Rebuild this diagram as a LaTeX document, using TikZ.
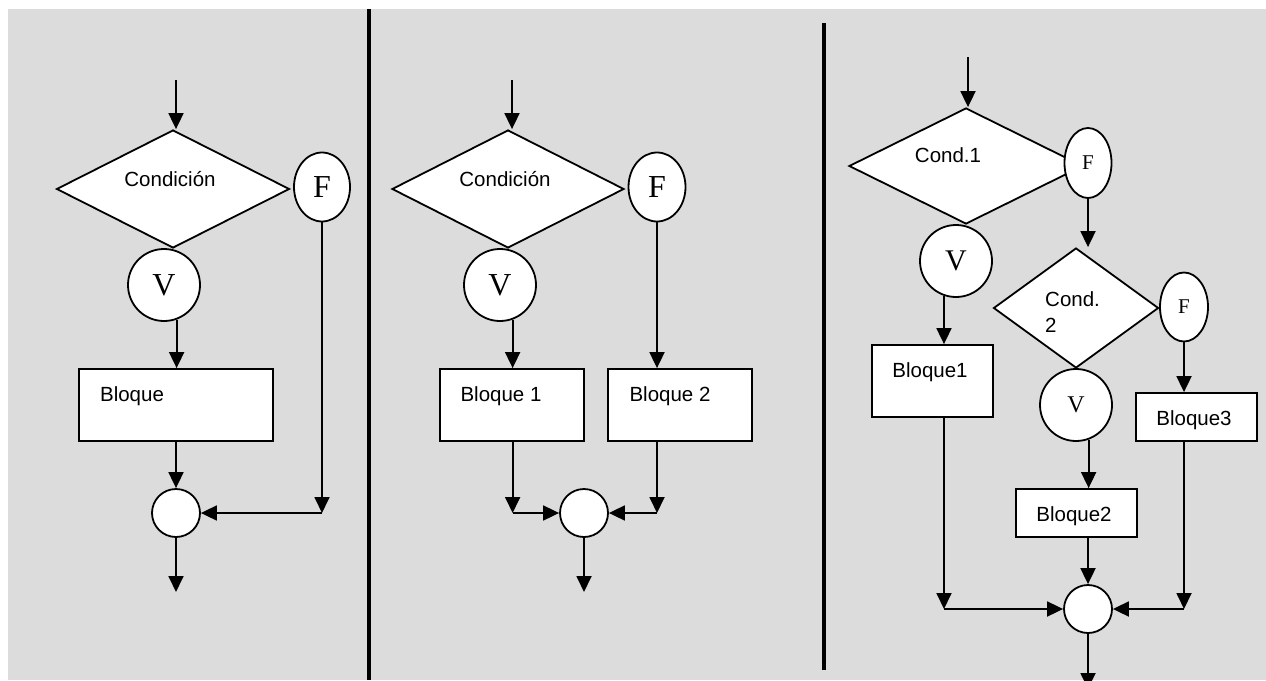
\documentclass[tikz,border=0pt]{standalone}
\usepackage{fontspec}
\setmainfont{Liberation Serif}
\newfontfamily\sansf{Liberation Sans}
\usetikzlibrary{shapes.geometric,arrows.meta}
\definecolor{bggray}{RGB}{220,220,220}
\tikzset{
  ln/.style={line width=1.8pt},
  arr/.style={ln,-{Triangle[length=16pt,width=15pt]}},
  shp/.style={draw,ln,fill=white,inner sep=0pt},
  dia/.style={shp,diamond},
  circ/.style={shp,circle},
  ell/.style={shp,ellipse},
  box/.style={shp,rectangle},
  lbl/.style={font=\sansf\fontsize{20.5}{24}\selectfont,inner sep=0pt},
  big/.style={font=\fontsize{32}{36}\selectfont},
}
\begin{document}
\begin{tikzpicture}[x=1pt,y=-1pt]
\useasboundingbox (0,0) rectangle (1266,680);
\fill[white] (0,0) rectangle (1266,680);
\fill[bggray] (8,9) rectangle (1266,680);
\draw[line width=4pt] (369,9) -- (369,680);
\draw[line width=4pt] (824,23) -- (824,670);

% ---------- Panel 1 ----------
\coordinate (s1) at (176,80);
\coordinate (e1) at (176,592);
\node[dia,minimum width=233,minimum height=118] (d1) at (173,189) {};
\node[lbl,anchor=base] (t1) at (170,186) {Condición};
\node[ell,minimum width=56,minimum height=69,big] (f1) at (322,187) {F};
\node[circ,minimum size=72,big] (v1) at (164,285) {V};
\node[box,minimum width=194,minimum height=72] (b1) at (176,405) {};
\node[lbl,anchor=base] (tb1) at (132,401) {Bloque};
\node[circ,minimum size=48] (m1) at (176,513) {};
\coordinate (c1) at (f1.south |- m1.east);
\draw[arr] (s1) -- (s1 |- d1.north);
\draw[arr] (v1.-70.5) -- (v1.-70.5 |- b1.north);
\draw[arr] (b1.south) -- (m1.north);
\draw[arr] (f1.south) -- (c1);
\draw[arr] (c1) -- (m1.east);
\draw[arr] (m1.south) -- (e1);

% ---------- Panel 2 ----------
\coordinate (s2) at (512,80);
\coordinate (e2) at (584,592);
\node[dia,minimum width=232,minimum height=118] (d2) at (508,189) {};
\node[lbl,anchor=base] (t2) at (505,186) {Condición};
\node[ell,minimum width=57,minimum height=69,big] (f2) at (657,187) {F};
\node[circ,minimum size=72,big] (v2) at (500,285) {V};
\node[box,minimum width=144,minimum height=72] (b21) at (512,405) {};
\node[lbl,anchor=base] (tb21) at (501,401) {Bloque 1};
\node[box,minimum width=144,minimum height=72] (b22) at (680,405) {};
\node[lbl,anchor=base] (tb22) at (670,401) {Bloque 2};
\node[circ,minimum size=48] (m2) at (584,513) {};
\coordinate (c21) at (v2.-70.5 |- m2.west);
\coordinate (c22) at (f2.south |- m2.east);
\draw[arr] (s2) -- (s2 |- d2.north);
\draw[arr] (v2.-70.5) -- (v2.-70.5 |- b21.north);
\draw[arr] (f2.south) -- (f2.south |- b22.north);
\draw[arr] (v2.-70.5 |- b21.south) -- (c21);
\draw[arr] (c21) -- (m2.west);
\draw[arr] (f2.south |- b22.south) -- (c22);
\draw[arr] (c22) -- (m2.east);
\draw[arr] (m2.south) -- (e2);

% ---------- Panel 3 ----------
\coordinate (s3) at (968,57);
\coordinate (e3) at (1088,689);
\node[dia,minimum width=234,minimum height=116] (d31) at (966,166) {};
\node[lbl,anchor=base] (t31) at (948,162) {Cond.1};
\node[ell,minimum width=47,minimum height=70,font=\fontsize{21}{24}\selectfont] (f31) at (1088,163) {F};
\node[circ,minimum size=72,font=\fontsize{30}{34}\selectfont] (v31) at (956,261) {V};
\node[box,minimum width=121,minimum height=72] (b31) at (932.5,381) {};
\node[lbl,anchor=base] (tb31) at (930,377) {Bloque1};
\node[dia,minimum width=165,minimum height=120] (d32) at (1076,308) {};
\node[lbl,anchor=base west] (t32a) at (1045,306) {Cond.};
\node[lbl,anchor=base west] (t32b) at (1045,332) {2};
\node[ell,minimum width=48,minimum height=69,font=\fontsize{21}{24}\selectfont] (f32) at (1184,307) {F};
\node[circ,minimum size=72,font=\fontsize{24}{28}\selectfont] (v32) at (1076,405) {V};
\node[box,minimum width=121,minimum height=48] (b33) at (1196.5,417) {};
\node[lbl,anchor=base] (tb33) at (1194,425) {Bloque3};
\node[box,minimum width=121,minimum height=48] (b32) at (1076.5,513) {};
\node[lbl,anchor=base] (tb32) at (1074,521) {Bloque2};
\node[circ,minimum size=48] (m3) at (1088,609) {};
\coordinate (c31) at (v31.-109 |- m3.west);
\coordinate (c33) at (f32.south |- m3.east);
\draw[arr] (s3) -- (s3 |- d31.north);
\draw[arr] (f31.south) -- (f31.south |- d32.north);
\draw[arr] (v31.-109) -- (v31.-109 |- b31.north);
\draw[arr] (f32.south) -- (f32.south |- b33.north);
\draw[arr] (v32.-70.5) -- (v32.-70.5 |- b32.north);
\draw[arr] (m3.north |- b32.south) -- (m3.north);
\draw[arr] (v31.-109 |- b31.south) -- (c31);
\draw[arr] (c31) -- (m3.west);
\draw[arr] (f32.south |- b33.south) -- (c33);
\draw[arr] (c33) -- (m3.east);
\draw[arr] (m3.south) -- (e3);
\end{tikzpicture}
\end{document}
